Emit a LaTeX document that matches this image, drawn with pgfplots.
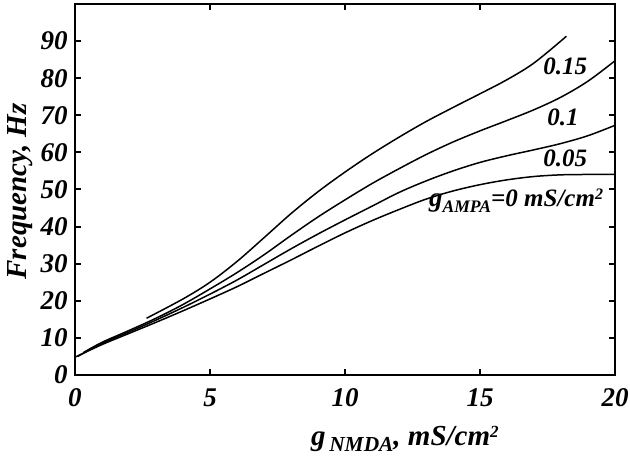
\documentclass[border=0pt]{standalone}
\usepackage{fontspec}
\setmainfont{Liberation Serif}
\usepackage{pgfplots}
\pgfplotsset{compat=1.18}
\newcommand{\bi}{\bfseries\itshape}
\begin{document}
\begin{tikzpicture}
\begin{axis}[
  name=ax,
  scale only axis, width=270pt, height=185.5pt,
  xmin=0, xmax=20, ymin=0, ymax=100,
  xtick={0,5,10,15,20}, ytick={0,10,...,90},
  tick align=inside, major tick length=2.8pt,
  axis line style={line width=1.3pt},
  every tick/.style={line width=1pt, black},
  /pgf/number format/assume math mode=true,
  ticklabel style={font=\fontsize{13.5}{15}\selectfont\bi, inner sep=0pt},
  xticklabel style={yshift=-6.5pt},
  yticklabel style={xshift=-3.5pt},
  xlabel={g\raisebox{-0.4ex}{\fontsize{10.7}{12}\selectfont\,NMDA}, mS/cm\raisebox{0.65ex}{\fontsize{8.5}{9}\selectfont 2}},
  ylabel={Frequency, Hz},
  label style={font=\fontsize{14.5}{16}\selectfont\bi},
  xlabel style={at={(axis description cs:0.611,0)}, anchor=base, inner sep=0pt, yshift=-35.5pt},
  ylabel style={at={(axis description cs:0,0.495)}, anchor=south, inner sep=0pt, yshift=21pt},
]
\addplot[black, line width=0.75pt, smooth, tension=0.55] coordinates {
(0,4.8) (1,8.2) (2,11.2) (3,14.2) (4,17.3) (5,20.5) (6,23.8) (7,27.4) (8,31) (9,34.7) (10,38.3) (11,41.6) (12,44.6) (13,47.4) (14,49.6) (15,51.3) (16,52.6) (17,53.5) (18,53.95) (19,54.05) (20,54.05)};
\addplot[black, line width=0.75pt, smooth, tension=0.55] coordinates {
(0.1,5) (1,8.5) (2,11.6) (3,14.8) (4,18.2) (5,21.8) (6,25.6) (7,29.8) (8,34) (9,38) (10,41.8) (11,45.5) (12,49.2) (13,52.3) (14,55) (15,57.3) (16,59.1) (17,60.7) (18,62.4) (19,64.5) (20,67.3)};
\addplot[black, line width=0.75pt, smooth, tension=0.55] coordinates {
(0.3,6) (1,8.8) (2,12) (3,15.3) (4,19) (5,23.2) (6,27.6) (7,32.4) (8,37.6) (9,42.6) (10,47.2) (11,51.6) (12,55.6) (13,59.4) (14,62.8) (15,65.8) (16,68.6) (17,71.5) (18,74.9) (19,79.2) (20,84.7)};
\addplot[black, line width=0.75pt, smooth, tension=0.55] coordinates {
(2.65,15.3) (4,20.5) (5,25) (6,30.6) (7,37) (8,43.5) (9,49.4) (10,54.7) (11,59.6) (12,64.1) (13,68.3) (14,72.1) (15,75.8) (16,79.6) (17,84.1) (18.2,91.3)};
\node[font=\fontsize{12.5}{14}\selectfont\bi, anchor=base west, inner sep=0pt] at (axis cs:17.33,81.1) {0.15};
\node[font=\fontsize{12.5}{14}\selectfont\bi, anchor=base west, inner sep=0pt] at (axis cs:17.48,67.3) {0.1};
\node[font=\fontsize{12.5}{14}\selectfont\bi, anchor=base west, inner sep=0pt] at (axis cs:17.33,56.2) {0.05};
\node[font=\fontsize{12.5}{14}\selectfont\bi, anchor=base west, inner sep=0pt] at (axis cs:13.1,45.4) {\fontsize{13.5}{15}\selectfont g\raisebox{-0.45ex}{\fontsize{8.8}{10}\selectfont AMPA}\fontsize{12.5}{14}\selectfont =0 mS/cm\raisebox{0.65ex}{\fontsize{8}{9}\selectfont 2}};
\end{axis}
\path (ax.south west) ++(-37.5pt,-44.5pt);
\path (ax.north east) ++(7.5pt,2pt);
\end{tikzpicture}
\end{document}
